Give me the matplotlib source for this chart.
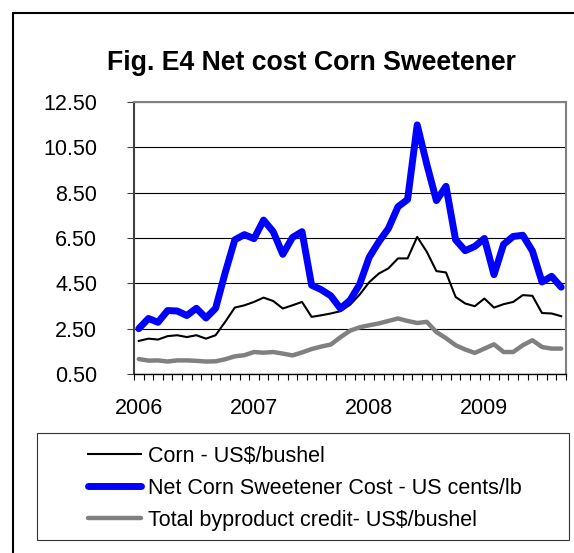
import matplotlib
matplotlib.use("Agg")
import matplotlib.pyplot as plt
import numpy as np
import pandas as pd
from matplotlib.lines import Line2D
from matplotlib.patches import Rectangle

plt.rcParams['font.family'] = ['Liberation Sans', 'DejaVu Sans']

# Monthly observations, Jan 2006 - Sep 2009
months = pd.date_range("2006-01-01", "2009-09-01", freq="MS").strftime("%Y-%m").tolist()

corn = [1.96, 2.06, 2.02, 2.17, 2.21, 2.13, 2.21, 2.06, 2.21, 2.80,
        3.43, 3.53, 3.68, 3.87, 3.72, 3.39, 3.53, 3.68, 3.02, 3.09,
        3.17, 3.27, 3.55, 4.00, 4.55, 4.93, 5.16, 5.60, 5.60, 6.55,
        5.89, 5.04, 4.98, 3.90, 3.61, 3.49, 3.83, 3.43, 3.58, 3.68,
        3.98, 3.95, 3.19, 3.17, 3.05]

sweetener = [2.50, 2.95, 2.78, 3.30, 3.28, 3.08, 3.40, 2.97, 3.40, 4.97,
             6.42, 6.65, 6.47, 7.29, 6.78, 5.78, 6.52, 6.78, 4.42, 4.22,
             3.95, 3.39, 3.75, 4.45, 5.65, 6.33, 6.92, 7.88, 8.20, 11.49,
             9.75, 8.15, 8.78, 6.42, 5.94, 6.13, 6.48, 4.88, 6.22, 6.57,
             6.62, 5.93, 4.56, 4.81, 4.33]

byproduct = [1.16, 1.09, 1.10, 1.05, 1.10, 1.10, 1.08, 1.05, 1.06, 1.15,
             1.28, 1.33, 1.47, 1.44, 1.47, 1.40, 1.32, 1.45, 1.60, 1.71,
             1.80, 2.12, 2.41, 2.56, 2.65, 2.73, 2.84, 2.95, 2.84, 2.75,
             2.80, 2.35, 2.08, 1.77, 1.58, 1.43, 1.62, 1.81, 1.47, 1.47,
             1.77, 1.99, 1.69, 1.62, 1.62]

year_labels = ["2006", "2007", "2008", "2009"]
y_ticks = [0.5, 2.5, 4.5, 6.5, 8.5, 10.5, 12.5]

series_names = ["Corn - US$/bushel",
                "Net Corn Sweetener Cost - US cents/lb",
                "Total byproduct credit- US$/bushel"]

W, H = 574, 553
FS = 15.5

fig = plt.figure(figsize=(W / 100, H / 100), dpi=100)
fig.patch.set_facecolor("white")

# outer chart border (left and top edges visible)
fig.add_artist(Rectangle((13 / W, -0.2), 1.5, 1.2 - 13 / H,
                         transform=fig.transFigure, fill=False,
                         edgecolor="black", linewidth=1.5))

fig.text(311 / W, 1 - 70 / H, "Fig. E4 Net cost Corn Sweetener",
         ha="center", va="baseline", fontsize=19.2, fontweight="bold")

ax = fig.add_axes([134 / W, 1 - 374 / H, (566 - 134) / W, (374 - 102) / H])
x = np.arange(len(months))

l1, = ax.plot(x, corn, color="black", lw=1.5, solid_joinstyle="round")
l2, = ax.plot(x, sweetener, color="#0000FF", lw=5.0,
              solid_joinstyle="round", solid_capstyle="round")
l3, = ax.plot(x, byproduct, color="#808080", lw=3.2,
              solid_joinstyle="round", solid_capstyle="round")

ax.set_xlim(-0.5, len(months) - 0.5)
ax.set_ylim(0.5, 12.5)
ax.set_yticks(y_ticks)
ax.set_yticklabels([f"{v:.2f}" for v in y_ticks])
ax.set_axisbelow(True)
ax.yaxis.grid(True, color="black", linewidth=0.8)

year_pos = [months.index(f"{y}-01") for y in year_labels]
ax.set_xticks(year_pos)
ax.set_xticklabels(year_labels)
ax.set_xticks(np.arange(-0.5, len(months), 1), minor=True)
ax.tick_params(axis="x", which="major", length=0, pad=17, labelsize=FS)
ax.tick_params(axis="x", which="minor", length=4, width=0.8,
               direction="out", color="black")
ax.tick_params(axis="y", length=5, width=0.8, direction="out",
               color="#404040", pad=21.5, labelsize=FS)

for side in ("top", "right"):
    ax.spines[side].set_color("#808080")
    ax.spines[side].set_linewidth(1.5)
ax.spines["left"].set_color("#404040")
ax.spines["left"].set_linewidth(1.5)
ax.spines["bottom"].set_color("black")
ax.spines["bottom"].set_linewidth(1.0)

# legend box
fig.add_artist(Rectangle((37 / W, 1 - 540 / H), (569 - 37) / W, (540 - 433) / H,
                         transform=fig.transFigure, fill=False,
                         edgecolor="#333333", linewidth=0.8))
fig.legend([l1, l2, l3], series_names, loc="upper left",
           bbox_to_anchor=(88 / W, 1 - 446 / H), frameon=False,
           fontsize=FS, handlelength=53 / 21.5, handletextpad=7 / 21.5,
           borderpad=0, borderaxespad=0, labelspacing=0.50)

fig.savefig("out.png", dpi=100)
